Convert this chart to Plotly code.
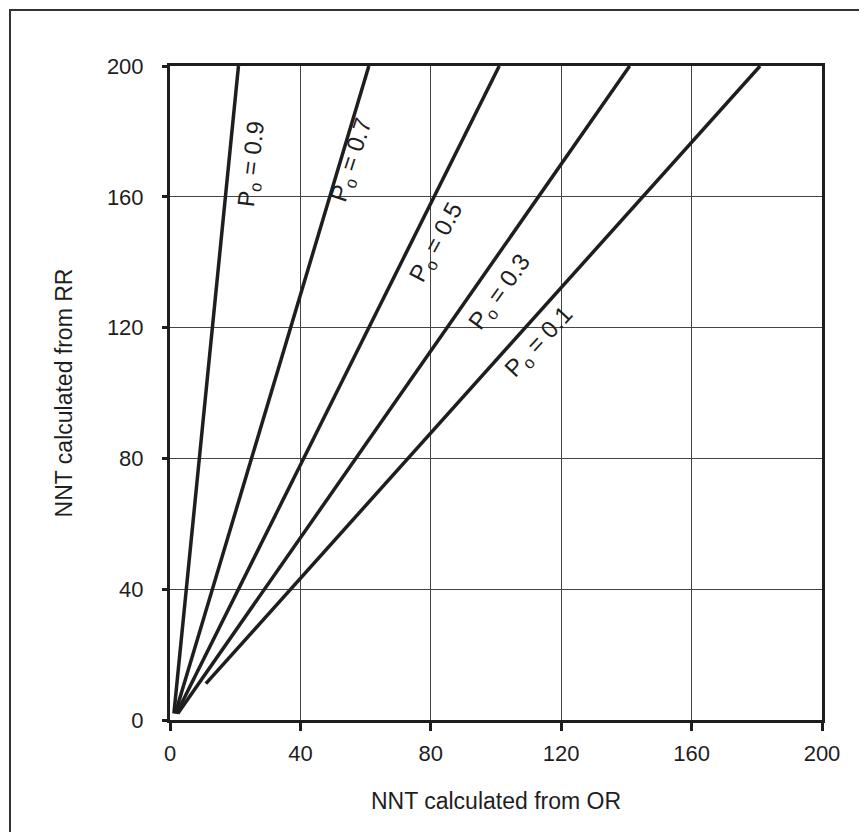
import plotly.graph_objects as go

# Data
p0_values = [0.9, 0.7, 0.5, 0.3, 0.1]
line_x_start = [1.2, 1.6, 2.0, 2.4, 11.0]
line_y_start = [2.0, 2.0, 2.0, 2.0, 11.1]
line_x_end = [21.0, 61.0, 101.0, 141.0, 181.0]
line_y_end = [200.0, 200.0, 200.0, 200.0, 200.0]

label_x = [25.2, 56.0, 82.0, 101.5, 113.5]
label_y = [170.0, 171.0, 146.0, 130.6, 115.3]
label_angle = [-83, -72, -62, -54, -47]

tick_vals = [0, 40, 80, 120, 160, 200]
tick_text = ["0", "40", "80", "120", "160", "200"]

FONT = "Liberation Sans, Arial, Helvetica, sans-serif"
INK = "#1e1e1e"

fig = go.Figure()
for i, p in enumerate(p0_values):
    fig.add_trace(go.Scatter(
        x=[line_x_start[i], line_x_end[i]],
        y=[line_y_start[i], line_y_end[i]],
        mode="lines",
        line=dict(color=INK, width=3.5),
        showlegend=False,
        hoverinfo="skip",
    ))
    fig.add_annotation(
        x=label_x[i], y=label_y[i], xref="x", yref="y",
        text=f"P<sub>o</sub> = {p}",
        showarrow=False, textangle=label_angle[i],
        font=dict(family=FONT, size=24, color=INK),
    )

axis_common = dict(
    range=[0, 200],
    tickvals=tick_vals,
    ticktext=tick_text,
    showgrid=True,
    gridcolor="#444444",
    gridwidth=1,
    showline=True,
    linecolor=INK,
    linewidth=3,
    mirror=True,
    ticks="outside",
    tickcolor=INK,
    tickwidth=2.5,
    zeroline=False,
    tickfont=dict(family=FONT, size=22, color=INK),
    title_font=dict(family=FONT, size=23, color=INK),
)

fig.update_xaxes(**axis_common, ticklen=8, ticklabelstandoff=4,
                 title_text="NNT calculated from OR", title_standoff=28)
fig.update_yaxes(**axis_common, ticklen=5, ticklabelstandoff=14,
                 title_text="NNT calculated from RR", title_standoff=28)

# outer frame (only top and left edges are visible in the picture)
fig.add_shape(type="rect", xref="paper", yref="paper",
              x0=-0.2454, y0=-0.3, x1=1.3, y1=1.0856,
              line=dict(color="#333333", width=2), layer="below")

fig.update_layout(
    width=851, height=824, autosize=False,
    margin=dict(l=162, r=37, t=58, b=112),
    paper_bgcolor="white", plot_bgcolor="white",
    font=dict(family=FONT, color=INK),
)

fig.write_html("out.html")
